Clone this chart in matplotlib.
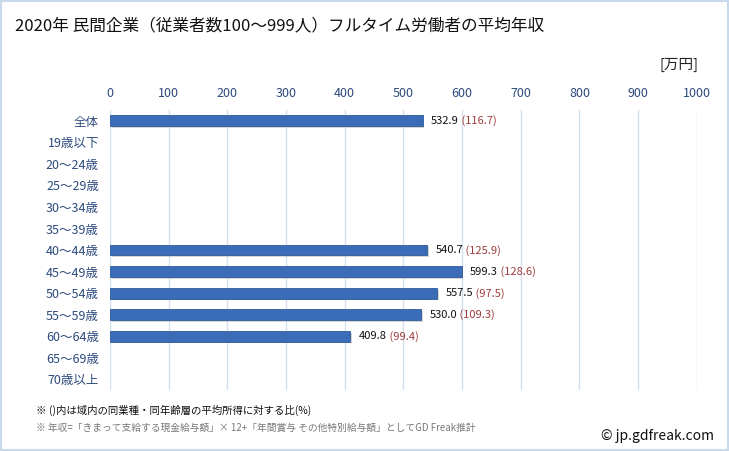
import matplotlib
matplotlib.use("Agg")
import matplotlib.pyplot as plt
from matplotlib.patches import Rectangle

plt.rcParams['font.family'] = ['Noto Sans CJK JP', 'DejaVu Sans']

categories = ["全体", "19歳以下", "20～24歳", "25～29歳", "30～34歳", "35～39歳",
              "40～44歳", "45～49歳", "50～54歳", "55～59歳", "60～64歳", "65～69歳", "70歳以上"]
values = [532.9, None, None, None, None, None, 540.7, 599.3, 557.5, 530.0, 409.8, None, None]
ratios = [116.7, None, None, None, None, None, 125.9, 128.6, 97.5, 109.3, 99.4, None, None]
xticks = list(range(0, 1001, 100))

fig = plt.figure(figsize=(7.29, 4.51), dpi=100)
fig.patches.append(Rectangle((0.002, 0.002), 0.996, 0.996, transform=fig.transFigure,
                             fill=False, edgecolor="#c9d9ec", linewidth=1.5))
ax = fig.add_axes([0.1509, 0.135, 0.805, 0.621])

ypos = list(range(len(categories)))
for y, v, r in zip(ypos, values, ratios):
    if v is None:
        continue
    # shadow
    ax.barh(y + 0.08, v, height=0.5, left=3, color="#bbbbbb", alpha=0.6, zorder=2)
    ax.barh(y, v, height=0.5, color="#3a6cb8", edgecolor="#2f5a9c", linewidth=0.6, zorder=3)
    t = ax.annotate(f"{v:.1f}", (v, y), xytext=(6, 0), textcoords="offset points",
                    va="center", ha="left", fontsize=8, color="#111111")
    ax.annotate(f" ({r})", (1, 0.5), xycoords=t, va="center", ha="left",
                fontsize=8, color="#a03c3c")

ax.set_xlim(0, 1000)
ax.set_ylim(len(categories) - 0.5, -0.5)
ax.set_yticks(ypos)
ax.set_yticklabels(categories, fontsize=9, color="#2c4a7c")
ax.set_xticks(xticks)
ax.set_xticklabels([str(x) for x in xticks], fontsize=9, color="#2c4a7c")
ax.xaxis.tick_top()
ax.tick_params(axis="both", length=0, pad=8)
ax.tick_params(axis="x", pad=7)
ax.grid(axis="x", color="#d3e0ef", linewidth=1)
ax.set_axisbelow(True)
for s in ax.spines.values():
    s.set_visible(False)

fig.text(0.02, 0.943, "2020年 民間企業（従業者数100～999人）フルタイム労働者の平均年収",
         fontsize=12, color="#111111", va="center")
fig.text(0.958, 0.856, "[万円]", fontsize=10.5, ha="right", va="center", color="#222222")
fig.text(0.05, 0.091, "※ ()内は域内の同業種・同年齢層の平均所得に対する比(%)",
         fontsize=7.5, color="#111111", va="center")
fig.text(0.05, 0.051, "※ 年収=「きまって支給する現金給与額」× 12+「年間賞与 その他特別給与額」としてGD Freak推計",
         fontsize=7, color="#777777", va="center")
fig.text(0.98, 0.033, "© jp.gdfreak.com", fontsize=10, ha="right", va="center", color="#111111")

fig.savefig("out.png", dpi=100)
